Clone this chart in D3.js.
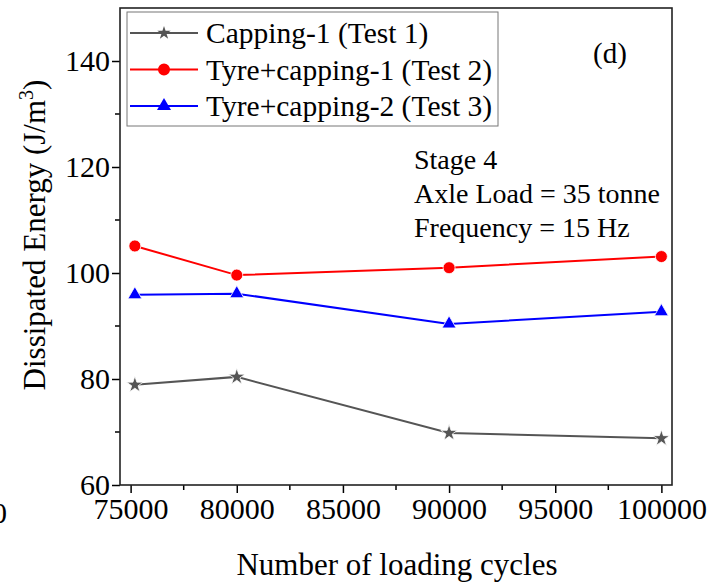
<!DOCTYPE html>
<html>
<head>
<meta charset="utf-8">
<script src="https://cdn.jsdelivr.net/npm/d3@7"></script>
<style>
  html, body { margin: 0; padding: 0; background: #fff; }
  svg { display: block; }
  text { font-family: "Liberation Serif", "Times New Roman", serif; fill: #000; }
</style>
</head>
<body>
<svg id="chart" width="715" height="583"></svg>
<script>
// Loading cycles at which dissipated energy was measured
const cycles = [75200, 80000, 90000, 100000];

// Dissipated energy (J/m3) per test
const energyTest1 = [78.9, 80.4, 69.8, 68.8];
const energyTest2 = [105.1, 99.6, 101.0, 103.1];
const energyTest3 = [95.9, 96.1, 90.4, 92.7];

const seriesNames = ["Capping-1 (Test 1)", "Tyre+capping-1 (Test 2)", "Tyre+capping-2 (Test 3)"];

const xTickValues = [75000, 80000, 85000, 90000, 95000, 100000];
const xMinorTicks = [77500, 82500, 87500, 92500, 97500];
const yTickValues = [60, 80, 100, 120, 140];
const yMinorTicks = [70, 90, 110, 130];

const annotationLines = ["Stage 4", "Axle Load = 35 tonne", "Frequency = 15 Hz"];

const series = [
  { name: seriesNames[0], values: energyTest1, color: "#555555", symbol: d3.symbolStar, size: 85, legendSize: 55 },
  { name: seriesNames[1], values: energyTest2, color: "#ff0000", symbol: d3.symbolCircle, size: 113, legendSize: 113 },
  { name: seriesNames[2], values: energyTest3, color: "#0000ff", symbol: d3.symbolTriangle, size: 85, legendSize: 85 }
];

const svg = d3.select("#chart");
const plotLeft = 120, plotRight = 672, plotTop = 8, plotBottom = 485;

const x = d3.scaleLinear().domain([74500, 100500]).range([plotLeft, plotRight]);
const y = d3.scaleLinear().domain([60, 150]).range([plotBottom, plotTop]);

// Series lines and markers
const line = d3.line().x((d, i) => x(cycles[i])).y(d => y(d));
series.forEach(s => {
  svg.append("path")
    .datum(s.values)
    .attr("d", line)
    .attr("fill", "none")
    .attr("stroke", s.color)
    .attr("stroke-width", 2);
  svg.selectAll(null)
    .data(s.values)
    .enter().append("path")
    .attr("d", d3.symbol().type(s.symbol).size(s.size))
    .attr("transform", (d, i) => `translate(${x(cycles[i])},${y(d)})`)
    .attr("fill", s.color)
    .attr("stroke", "#fff")
    .attr("stroke-width", 0.8);
});

// Axes
const xAxis = svg.append("g")
  .attr("transform", `translate(0,${plotBottom})`)
  .call(d3.axisBottom(x).tickValues(xTickValues).tickSize(8).tickSizeOuter(0).tickFormat(d3.format("d")));
xAxis.append("g").selectAll("line").data(xMinorTicks).enter().append("line")
  .attr("x1", d => x(d)).attr("x2", d => x(d)).attr("y1", 0).attr("y2", 5)
  .attr("stroke", "#000").attr("stroke-width", 1.5);

const yAxis = svg.append("g")
  .attr("transform", `translate(${plotLeft},0)`)
  .call(d3.axisLeft(y).tickValues(yTickValues).tickSize(8).tickSizeOuter(0));
yAxis.append("g").selectAll("line").data(yMinorTicks).enter().append("line")
  .attr("y1", d => y(d)).attr("y2", d => y(d)).attr("x1", 0).attr("x2", -5)
  .attr("stroke", "#000").attr("stroke-width", 1.5);

[xAxis, yAxis].forEach(g => {
  g.select(".domain").remove();
  g.selectAll(".tick line").attr("stroke", "#000").attr("stroke-width", 1.5);
  g.selectAll(".tick text")
    .style("font-family", "'Liberation Serif', 'Times New Roman', serif")
    .style("font-size", "30px")
    .attr("fill", "#000");
});
xAxis.selectAll(".tick text").attr("y", 13);
yAxis.selectAll(".tick text").attr("x", -10);

// Plot frame
svg.append("rect")
  .attr("x", plotLeft).attr("y", plotTop)
  .attr("width", plotRight - plotLeft).attr("height", plotBottom - plotTop)
  .attr("fill", "none").attr("stroke", "#222").attr("stroke-width", 1.6);

// Axis titles
svg.append("text")
  .attr("x", 397).attr("y", 575)
  .attr("text-anchor", "middle")
  .style("font-size", "31px")
  .text("Number of loading cycles");

const yTitle = svg.append("text")
  .attr("transform", "translate(45,235) rotate(-90)")
  .attr("text-anchor", "middle")
  .style("font-size", "31px");
yTitle.append("tspan").text("Dissipated Energy (J/m");
yTitle.append("tspan").attr("dy", -12).style("font-size", "20px").text("3");
yTitle.append("tspan").attr("dy", 12).text(")");

// Fragment of a neighbouring tick label at the left edge
svg.append("text").attr("x", 7).attr("y", 523).attr("text-anchor", "end")
  .style("font-size", "30px").text("0");

// Legend
const legend = svg.append("g");
legend.append("rect")
  .attr("x", 127).attr("y", 12).attr("width", 371).attr("height", 114)
  .attr("fill", "#fff").attr("stroke", "#777").attr("stroke-width", 1);
series.forEach((s, i) => {
  const ly = 33 + i * 36.5;
  legend.append("line")
    .attr("x1", 130).attr("x2", 198).attr("y1", ly).attr("y2", ly)
    .attr("stroke", s.color).attr("stroke-width", 2);
  legend.append("path")
    .attr("d", d3.symbol().type(s.symbol).size(s.legendSize))
    .attr("transform", `translate(164,${ly})`)
    .attr("fill", s.color);
  legend.append("text")
    .attr("x", 206).attr("y", ly + 10)
    .style("font-size", "29.5px")
    .text(s.name);
});

// Panel label and test conditions
svg.append("text").attr("x", 610).attr("y", 63).attr("text-anchor", "middle")
  .style("font-size", "29px").text("(d)");

svg.selectAll(null).data(annotationLines).enter().append("text")
  .attr("x", 414).attr("y", (d, i) => 169 + i * 34)
  .style("font-size", "28px")
  .text(d => d);
</script>
</body>
</html>
